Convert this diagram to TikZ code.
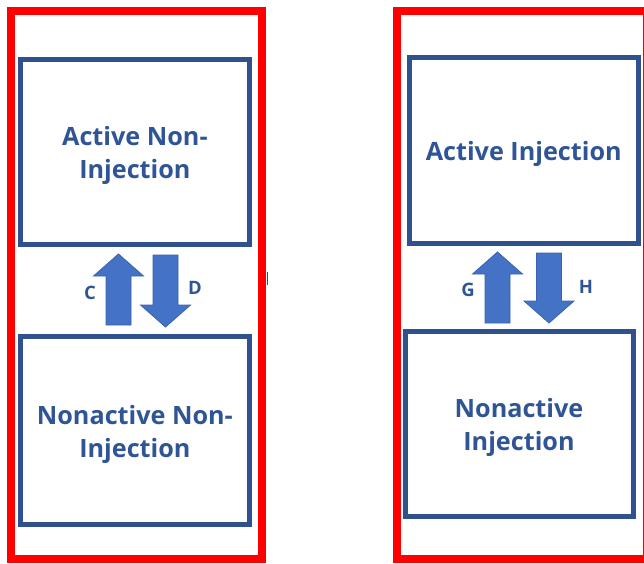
\documentclass[tikz,border=0pt]{standalone}
\usepackage{fontspec}
\setmainfont{Open Sans}
\definecolor{frame}{HTML}{FF0000}
\definecolor{boxline}{HTML}{2F528F}
\definecolor{txt}{HTML}{2F5597}
\definecolor{arrowfill}{HTML}{4472C4}
\definecolor{arrowline}{HTML}{3A62B0}

% block arrow: centre x, tail y, tip y (pixel-like units, y grows downward)
\newcommand\blkarrow[3]{%
  \pgfmathsetmacro\hd{#3>#2 ? -22 : 22}%
  \draw[blockarrow]
    ({#1-12.5},#2) -- ({#1-12.5},{#3+\hd}) -- ({#1-25},{#3+\hd}) --
    (#1,#3) -- ({#1+25},{#3+\hd}) -- ({#1+12.5},{#3+\hd}) --
    ({#1+12.5},#2) -- cycle;}

\begin{document}
\begin{tikzpicture}[x=1pt,y=-1pt,
  redframe/.style={draw=frame, line width=8pt},
  statebox/.style={draw=boxline, line width=5pt, fill=white, inner sep=0pt},
  statetext/.style={text=txt, align=center, inner sep=0pt, yshift=-4pt,
    font=\bfseries\fontsize{25.2}{33}\selectfont},
  blockarrow/.style={fill=arrowfill, draw=arrowline, line width=0.8pt, line join=miter},
  ratelabel/.style={text=txt, font=\bfseries\fontsize{18.5}{20}\selectfont, inner sep=0pt}]
  \useasboundingbox (0,0) rectangle (644,563);
  \clip (0,0) rectangle (644,563);
  \fill[white] (0,0) rectangle (644,563);

  % outer frames
  \draw[redframe] (11.2,10.8) rectangle (262,559);
  \draw[redframe] (396.7,10.8) rectangle (647,559);

  % states without injection
  \node[statebox, minimum width=229.2pt, minimum height=185pt,
    label={[statetext]center:{Active Non-\\Injection}}] (ani) at (134.9,151.5) {};
  \node[statebox, minimum width=229.2pt, minimum height=188pt,
    label={[statetext]center:{Nonactive Non-\\Injection}}] (nni) at (134.9,430) {};

  % states with injection
  \node[statebox, minimum width=229.5pt, minimum height=186pt,
    label={[statetext]center:{Active Injection}}] (ai) at (523.75,150) {};
  \node[statebox, minimum width=228pt, minimum height=185pt,
    label={[statetext]center:{Nonactive\\Injection}}] (ni) at (519,423.5) {};

  % transitions
  \blkarrow{118.5}{325}{254}
  \blkarrow{165.5}{255}{327}
  \blkarrow{497.5}{323}{252}
  \blkarrow{549}{253}{323}

  \node[ratelabel] (c) at (90,293) {C};
  \node[ratelabel] (d) at (195,288) {D};
  \node[ratelabel] (g) at (468,290) {G};
  \node[ratelabel] (h) at (586,287) {H};

  % small mark beside the left frame
  \draw[boxline, line width=1.2pt] (267.3,272) -- (267.3,285);
\end{tikzpicture}
\end{document}
